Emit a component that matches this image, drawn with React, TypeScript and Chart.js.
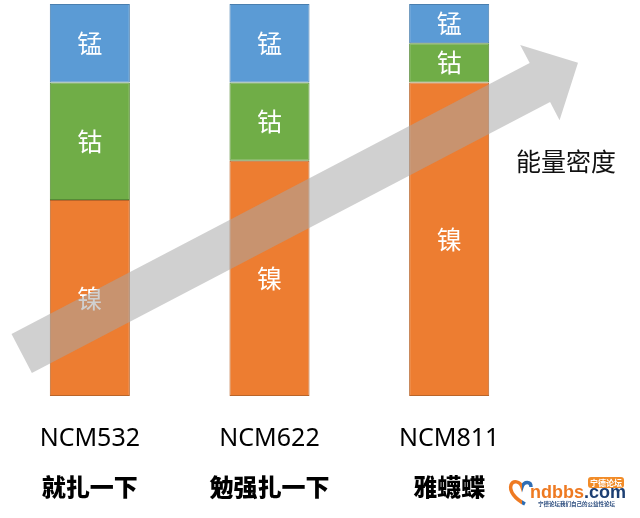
import React, { useEffect, useRef } from "react";
import { Chart, registerables } from "chart.js";

Chart.register(...registerables);

const categories = ["NCM532", "NCM622", "NCM811"];
const nicknames = ["就扎一下", "勉强扎一下", "雅蠛蝶"];
const seriesNames = ["镍", "钴", "锰"];
const nickel = [5, 6, 8];
const cobalt = [3, 2, 1];
const manganese = [2, 2, 1];
const arrowLabel = "能量密度";
const logoMain = "ndbbs";
const logoDomain = ".com";
const logoBadge = "宁德论坛";
const logoSlogan = "宁德论坛我们自己的公益性论坛";

const W = 640;
const H = 518;

const CJK = '"Noto Sans CJK SC", "Noto Sans", sans-serif';

function drawArrow(ctx: CanvasRenderingContext2D) {
  const tail = { x: 21.7, y: 353.4 };
  const tip = { x: 578, y: 62.7 };
  const bodyW = 44;
  const headW = 85;
  const headL = 43;
  const dx = tip.x - tail.x;
  const dy = tip.y - tail.y;
  const len = Math.hypot(dx, dy);
  const ux = dx / len, uy = dy / len;
  const nx = -uy, ny = ux;
  const bx = tip.x - ux * headL, by = tip.y - uy * headL;
  ctx.save();
  ctx.beginPath();
  ctx.moveTo(tail.x + nx * bodyW / 2, tail.y + ny * bodyW / 2);
  ctx.lineTo(bx + nx * bodyW / 2, by + ny * bodyW / 2);
  ctx.lineTo(bx + nx * headW / 2, by + ny * headW / 2);
  ctx.lineTo(tip.x, tip.y);
  ctx.lineTo(bx - nx * headW / 2, by - ny * headW / 2);
  ctx.lineTo(bx - nx * bodyW / 2, by - ny * bodyW / 2);
  ctx.lineTo(tail.x - nx * bodyW / 2, tail.y - ny * bodyW / 2);
  ctx.closePath();
  ctx.fillStyle = "rgba(166,166,166,0.53)";
  ctx.fill();
  ctx.restore();
}

function drawLogo(ctx: CanvasRenderingContext2D) {
  ctx.save();
  const hx = 521, hy = 488;
  const grad = ctx.createLinearGradient(hx - 10, 0, hx + 10, 0);
  grad.addColorStop(0, "#EE7A22");
  grad.addColorStop(0.55, "#EE7A22");
  grad.addColorStop(0.56, "#2E6DB4");
  grad.addColorStop(1, "#2E6DB4");
  ctx.strokeStyle = grad;
  ctx.lineWidth = 3.5;
  ctx.beginPath();
  ctx.moveTo(hx + 4, hy + 16);
  ctx.bezierCurveTo(hx - 6, hy + 11, hx - 12, hy + 3, hx - 10, hy - 3);
  ctx.bezierCurveTo(hx - 8, hy - 8, hx - 1, hy - 7, hx + 1, hy - 1);
  ctx.bezierCurveTo(hx + 3, hy - 7, hx + 10, hy - 7, hx + 10, hy - 1);
  ctx.stroke();
  ctx.textBaseline = "alphabetic";
  ctx.textAlign = "left";
  ctx.font = 'bold 18px "Liberation Sans", Arial, sans-serif';
  ctx.fillStyle = "#EE7A22";
  ctx.fillText(logoMain, 530, 498);
  const w1 = ctx.measureText(logoMain).width;
  ctx.fillStyle = "#1D3F73";
  ctx.fillText(logoDomain, 530 + w1, 498);
  ctx.fillStyle = "#F28C28";
  const bx = 588, by = 477, bw = 36, bh = 11, r = 3;
  ctx.beginPath();
  ctx.moveTo(bx + r, by);
  ctx.lineTo(bx + bw - r, by);
  ctx.quadraticCurveTo(bx + bw, by, bx + bw, by + r);
  ctx.lineTo(bx + bw, by + bh - r);
  ctx.quadraticCurveTo(bx + bw, by + bh, bx + bw - r, by + bh);
  ctx.lineTo(bx + r, by + bh);
  ctx.quadraticCurveTo(bx, by + bh, bx, by + bh - r);
  ctx.lineTo(bx, by + r);
  ctx.quadraticCurveTo(bx, by, bx + r, by);
  ctx.fill();
  ctx.fillStyle = "#ffffff";
  ctx.font = `bold 8px ${CJK}`;
  ctx.textAlign = "center";
  ctx.textBaseline = "middle";
  ctx.fillText(logoBadge, bx + bw / 2, by + bh / 2 + 0.5);
  ctx.fillStyle = "#2B4C7E";
  ctx.font = `bold 5.5px ${CJK}`;
  ctx.textAlign = "left";
  ctx.fillText(logoSlogan, 538, 504);
  ctx.restore();
}

const overlayPlugin = {
  id: "overlay",
  afterDatasetsDraw(chart: any) {
    const ctx: CanvasRenderingContext2D = chart.ctx;
    ctx.save();
    ctx.fillStyle = "#ffffff";
    ctx.font = `400 25px ${CJK}`;
    ctx.textAlign = "center";
    ctx.textBaseline = "middle";
    chart.data.datasets.forEach((ds: any, di: number) => {
      const meta = chart.getDatasetMeta(di);
      meta.data.forEach((bar: any) => {
        const p = bar.getProps(["x", "y", "base"], true);
        ctx.fillText(seriesNames[di], p.x, (p.y + p.base) / 2);
      });
    });
    ctx.restore();

    drawArrow(ctx);

    ctx.save();
    ctx.fillStyle = "#111111";
    ctx.font = `400 25px ${CJK}`;
    ctx.textAlign = "center";
    ctx.textBaseline = "middle";
    ctx.fillText(arrowLabel, 566, 161);
    ctx.restore();
  },
  afterDraw(chart: any) {
    const ctx: CanvasRenderingContext2D = chart.ctx;
    const xs = chart.scales.x;
    ctx.save();
    ctx.textAlign = "center";
    ctx.textBaseline = "middle";
    categories.forEach((c, i) => {
      const x = xs.getPixelForValue(i);
      ctx.fillStyle = "#000000";
      ctx.font = `400 25px "Noto Sans", sans-serif`;
      ctx.fillText(c, x, 439);
      ctx.font = `900 24px ${CJK}`;
      ctx.fillText(nicknames[i], x, 487);
    });
    ctx.restore();
    drawLogo(ctx);
  },
};

export default function App() {
  const ref = useRef<HTMLCanvasElement | null>(null);
  useEffect(() => {
    if (!ref.current) return;
    const common = {
      borderWidth: 1,
      borderSkipped: false,
      barPercentage: 1,
      categoryPercentage: 0.4457,
    };
    const chart = new Chart(ref.current, {
      type: "bar",
      data: {
        labels: categories,
        datasets: [
          { label: seriesNames[0], data: nickel, backgroundColor: "#ED7D31", borderColor: "#B9652A", ...common },
          { label: seriesNames[1], data: cobalt, backgroundColor: "#70AD47", borderColor: "#568A36", ...common },
          { label: seriesNames[2], data: manganese, backgroundColor: "#5B9BD5", borderColor: "#4A7FAF", ...common },
        ],
      },
      options: {
        responsive: false,
        animation: false,
        devicePixelRatio: 1,
        layout: { padding: { top: 4, bottom: 122, left: 0, right: 101 } },
        plugins: { legend: { display: false }, tooltip: { enabled: false } },
        scales: {
          x: { stacked: true, display: false, offset: true },
          y: { stacked: true, display: false, min: 0, max: 10 },
        },
      },
      plugins: [overlayPlugin],
    } as any);
    return () => chart.destroy();
  }, []);
  return (
    <div style={{ position: "absolute", left: 0, top: 0, width: W, height: H, background: "#ffffff" }}>
      <canvas ref={ref} width={W} height={H} style={{ width: W, height: H, display: "block" }} />
    </div>
  );
}
